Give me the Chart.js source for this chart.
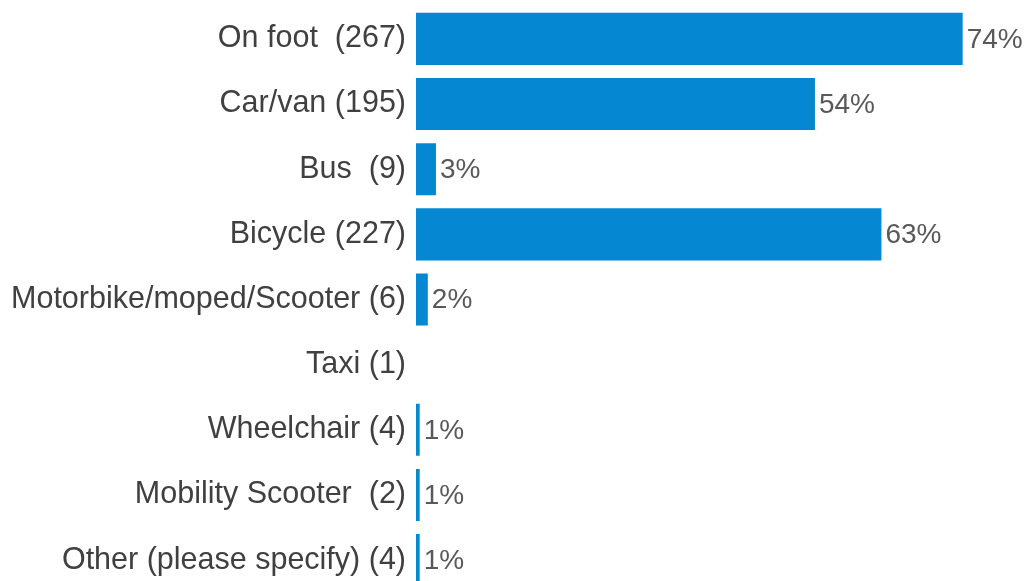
<!DOCTYPE html>
<html>
<head>
<meta charset="utf-8">
<script src="https://cdn.jsdelivr.net/npm/chart.js@4"></script>
<style>
    html, body { margin: 0; padding: 0; background: #fff; overflow: hidden; }
    #wrap { width: 1025px; height: 643px; margin-top: -22px; }
</style>
</head>
<body>
<div id="wrap"><canvas id="modeChart"></canvas></div>
<script>
// survey answers, with respondent counts in the label
const categories = [
    'On foot  (267)',
    'Car/van (195)',
    'Bus  (9)',
    'Bicycle (227)',
    'Motorbike/moped/Scooter (6)',
    'Taxi (1)',
    'Wheelchair (4)',
    'Mobility Scooter  (2)',
    'Other (please specify) (4)'
];
// bar lengths in percent
const shares = [74, 54, 2.7, 63, 1.6, 0, 0.5, 0.5, 0.5];
// the percent text printed next to each bar
const shareLabels = ['74%', '54%', '3%', '63%', '2%', '', '1%', '1%', '1%'];

const barColor = '#0588D1';
const fontFamily = '"Liberation Sans", Arial, sans-serif';

const valueLabels = {
    id: 'valueLabels',
    afterDatasetsDraw(chart) {
        const ctx = chart.ctx;
        const meta = chart.getDatasetMeta(0);
        ctx.save();
        ctx.font = '28px ' + fontFamily;
        ctx.fillStyle = '#595959';
        ctx.textAlign = 'left';
        ctx.textBaseline = 'middle';
        meta.data.forEach((bar, i) => {
            if (!shareLabels[i]) return;
            ctx.fillText(shareLabels[i], bar.x + 4, bar.y + 1);
        });
        ctx.restore();
    }
};

const data = {
    labels: categories,
    datasets: [{
            data: shares,
            backgroundColor: barColor,
            borderWidth: 0,
            barPercentage: 0.8,
            categoryPercentage: 1
        }]
};

const config = {
    type: 'bar',
    data: data,
    options: {
        indexAxis: 'y',
        responsive: true,
        maintainAspectRatio: false,
        animation: false,
        layout: {padding: {top: 5, right: 18, bottom: 6, left: 0}},
        plugins: {
            legend: {display: false},
            tooltip: {enabled: false}
        },
        scales: {
            x: {display: false, min: 0, max: 80},
            y: {
                grid: {display: false, drawTicks: false},
                border: {display: false},
                ticks: {
                    color: '#404040',
                    font: {family: fontFamily, size: 30.5},
                    padding: 10
                },
                afterFit(scale) {
                    scale.width = 416;
                }
            }
        }
    },
    plugins: [valueLabels]
};

new Chart(document.getElementById('modeChart').getContext('2d'), config);
</script>
</body>
</html>
